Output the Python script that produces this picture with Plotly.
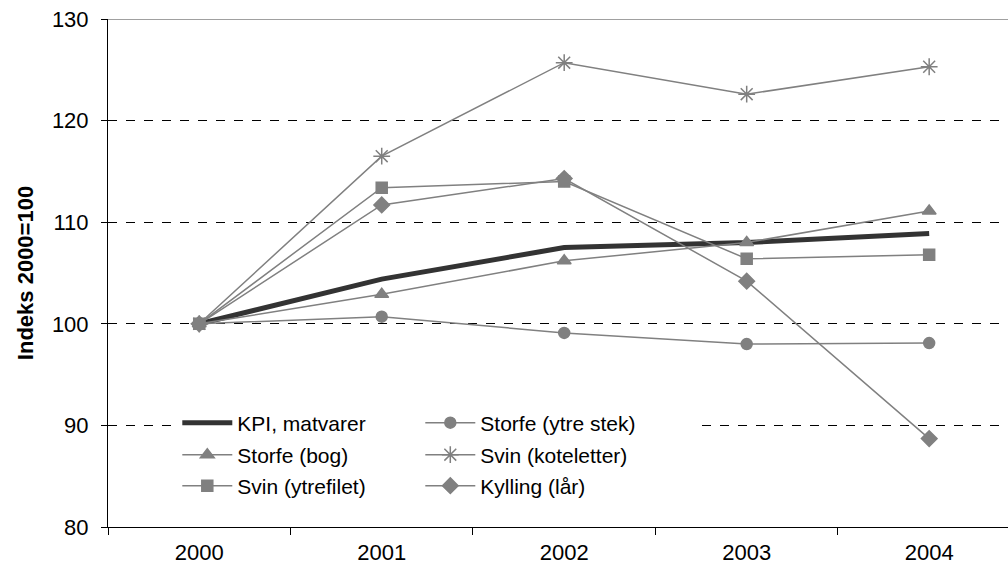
import plotly.graph_objects as go

years = ["2000", "2001", "2002", "2003", "2004"]
kpi = [100, 104.4, 107.5, 108.0, 108.9]
storfe_ytre = [100, 100.7, 99.1, 98.0, 98.1]
storfe_bog = [100, 102.9, 106.2, 108.0, 111.1]
svin_kot = [100, 116.5, 125.7, 122.6, 125.3]
svin_ytre = [100, 113.4, 114.0, 106.4, 106.8]
kylling = [100, 111.7, 114.3, 104.2, 88.7]

GRAY = "#808080"
FONT = "Liberation Sans, Arial, sans-serif"
FS = 21
TFS = 22

fig = go.Figure()

def add(name, y, symbol, legend, size=10, color=GRAY, width=1.5, marker=True):
    fig.add_trace(go.Scatter(
        x=years, y=y, name=name, legend=legend,
        mode="lines+markers" if marker else "lines",
        line=dict(color=color, width=width),
        marker=dict(symbol=symbol, size=size, color=color,
                    line=dict(color=color, width=1.5)),
    ))

add("KPI, matvarer", kpi, "circle", "legend", color="#333333", width=5, marker=False)
add("Storfe (ytre stek)", storfe_ytre, "circle", "legend2", size=11)
add("Storfe (bog)", storfe_bog, "triangle-up", "legend3", size=12)
add("Svin (koteletter)", svin_kot, "asterisk-open", "legend4", size=14)
add("Svin (ytrefilet)", svin_ytre, "square", "legend5", size=11)
add("Kylling (lår)", kylling, "diamond", "legend6", size=12)

# legend placement (paper coords)
rows = [0.2047, 0.1417, 0.0807]
col_x = [0.077, 0.347]
legend_layout = {}
names = ["legend", "legend2", "legend3", "legend4", "legend5", "legend6"]
for i, ln in enumerate(names):
    r, c = divmod(i, 2)
    legend_layout[ln] = dict(
        x=col_x[c], y=rows[r], xanchor="left", yanchor="middle",
        bgcolor="rgba(0,0,0,0)", borderwidth=0,
        font=dict(family=FONT, size=FS, color="black"),
        itemwidth=50,
    )

fig.update_layout(
    width=1008, height=576,
    margin=dict(l=108, r=0, t=19, b=49),
    plot_bgcolor="white", paper_bgcolor="white",
    font=dict(family=FONT, size=FS, color="black"),
    showlegend=True,
    **legend_layout,
    xaxis=dict(
        type="category", range=[-0.5, 4.432],
        showgrid=False, showline=True, linecolor="black", linewidth=1,
        ticks="outside", tickson="boundaries", ticklen=7, tickcolor="black",
        tickfont=dict(family=FONT, size=TFS, color="black"),
        ticklabelstandoff=6,
        zeroline=False, automargin=False,
    ),
    yaxis=dict(
        range=[80, 130], tickvals=[80, 90, 100, 110, 120, 130],
        showgrid=True, gridcolor="black", griddash="dash", gridwidth=1,
        showline=True, linecolor="black", linewidth=1,
        ticks="outside", ticklen=6, tickcolor="black",
        tickfont=dict(family=FONT, size=TFS, color="black"),
        ticklabelstandoff=8,
        title=dict(text="<b>Indeks 2000=100</b>", font=dict(family=FONT, size=TFS, color="black"), standoff=12),
        zeroline=False, automargin=False,
    ),
    shapes=[
        dict(type="rect", xref="paper", yref="paper", x0=0.07, x1=0.65, y0=0.04, y1=0.245,
             fillcolor="white", line=dict(width=0), layer="above"),
        dict(type="line", xref="paper", yref="y", x0=0, x1=1, y0=130, y1=130,
             line=dict(color=GRAY, width=1.5), layer="between"),
    ],
)

fig.write_html("out.html", config={"displayModeBar": False},
               post_script="document.body.style.margin='0';document.body.style.overflow='hidden';")
